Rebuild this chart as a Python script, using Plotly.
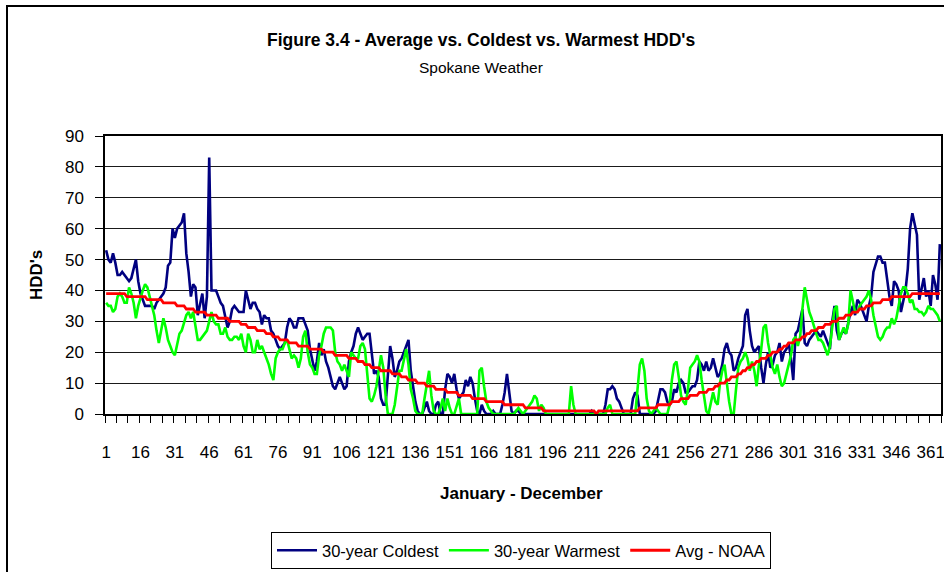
import plotly.graph_objects as go

days = list(range(1, 366))

coldest = [
    53, 50, 49, 52, 49, 45, 45, 46, 45, 44,
    43, 44, 47, 50, 43, 39, 37, 35, 35, 35,
    35, 34, 36, 37, 38, 39, 41, 48, 49, 60,
    57, 60, 61, 62, 65, 52, 46, 38, 42, 41,
    32, 36, 39, 31, 38, 83, 40, 40, 40, 38,
    36, 35, 32, 28, 30, 34, 35, 34, 33, 33,
    33, 40, 37, 34, 36, 36, 34, 33, 29, 32,
    31, 31, 27, 26, 24, 22, 21, 22, 23, 28,
    31, 30, 28, 28, 31, 31, 31, 29, 27, 21,
    17, 14, 17, 23, 19, 21, 17, 15, 12, 9,
    8, 10, 12, 10, 8, 9, 17, 20, 22, 26,
    28, 26, 24, 25, 26, 26, 20, 13, 14, 12,
    5, 3, 3, 12, 22, 18, 12, 14, 17, 18,
    20, 22, 24, 14, 9, 4, 1, 0, 0, 2,
    4, 1, 0, 0, 3, 4, 0, 0, 8, 13,
    12, 10, 13, 8, 5, 6, 7, 11, 9, 12,
    10, 5, 1, 0, 3, 1, 0, 0, 0, 1,
    0, 0, 0, 3, 7, 13, 7, 1, 0, 1,
    1, 0, 0, 0, 0, 0, 0, 0, 0, 0,
    0, 0, 0, 0, 0, 0, 0, 0, 0, 0,
    0, 0, 0, 0, 0, 0, 0, 0, 0, 0,
    0, 0, 1, 0, 0, 0, 0, 0, 3, 8,
    8, 9, 8, 5, 4, 2, 0, 0, 0, 0,
    5, 7, 6, 0, 0, 0, 0, 0, 0, 0,
    1, 4, 8, 8, 7, 4, 3, 4, 8, 7,
    10, 11, 10, 7, 7, 8, 9, 9, 11, 17,
    16, 14, 17, 14, 15, 18, 15, 12, 13, 16,
    21, 23, 20, 19, 14, 15, 18, 20, 22, 32,
    34, 27, 22, 20, 21, 22, 15, 10, 16, 20,
    15, 16, 19, 20, 23, 17, 20, 21, 23, 18,
    11, 26, 27, 30, 34, 23, 22, 24, 25, 26,
    27, 26, 25, 27, 25, 23, 21, 30, 35, 27,
    24, 26, 27, 26, 30, 33, 35, 32, 37, 36,
    34, 32, 30, 35, 38, 46, 49, 51, 51, 49,
    49, 44, 38, 35, 43, 42, 40, 33, 36, 40,
    47, 60, 65, 62, 58, 37, 40, 44, 38, 40,
    35, 45, 42, 37, 55,
]

warmest = [
    36, 35, 35, 33, 34, 38, 39, 38, 36, 36,
    41, 39, 36, 31, 35, 38, 40, 42, 41, 38,
    35, 32, 27, 23, 27, 31, 28, 24, 22, 20,
    19, 23, 26, 27, 30, 32, 33, 31, 33, 28,
    24, 24, 25, 26, 27, 30, 33, 30, 29, 29,
    26, 26, 28, 25, 24, 24, 25, 25, 24, 26,
    22, 20, 26, 24, 20, 20, 24, 21, 22, 20,
    18, 16, 13, 11, 18, 20, 21, 21, 23, 24,
    21, 18, 19, 18, 15, 18, 25, 27, 20, 16,
    15, 13, 13, 19, 22, 26, 28, 28, 28, 27,
    20, 17, 16, 14, 16, 14, 12, 20, 19, 18,
    18, 22, 23, 21, 13, 5, 4, 6, 9, 14,
    19, 15, 6, 0, 0, 0, 3, 8, 14, 14,
    17, 21, 16, 8, 5, 1, 0, 0, 0, 5,
    10, 14, 6, 1, 0, 0, 2, 5, 1, 5,
    2, 0, 0, 3, 5, 0, 0, 0, 0, 0,
    0, 0, 0, 14, 15, 9, 4, 2, 1, 0,
    0, 0, 0, 0, 0, 0, 0, 0, 0, 1,
    2, 1, 0, 1, 2, 3, 4, 6, 5, 1,
    3, 2, 0, 0, 0, 0, 0, 0, 0, 0,
    0, 0, 0, 9, 3, 0, 0, 0, 0, 0,
    0, 0, 0, 0, 0, 0, 0, 0, 0, 2,
    3, 0, 0, 0, 0, 0, 0, 0, 0, 0,
    0, 0, 8, 16, 18, 14, 5, 1, 0, 1,
    2, 1, 0, 0, 0, 0, 3, 11, 16, 17,
    12, 6, 4, 3, 8, 15, 16, 17, 19, 17,
    11, 6, 1, 0, 3, 7, 4, 3, 10, 14,
    16, 10, 4, 0, 0, 8, 15, 17, 18, 20,
    18, 14, 17, 14, 9, 16, 21, 28, 29, 23,
    19, 15, 13, 16, 12, 9, 10, 13, 16, 19,
    24, 25, 22, 25, 34, 41, 37, 33, 31, 28,
    26, 24, 24, 23, 21, 19, 22, 29, 34, 35,
    24, 26, 28, 26, 29, 40, 37, 33, 33, 35,
    36, 37, 38, 40, 37, 32, 28, 25, 24, 25,
    27, 28, 28, 31, 29, 31, 35, 39, 41, 41,
    39, 36, 37, 34, 34, 33, 33, 32, 33, 35,
    34, 34, 33, 32, 30,
]

avg_noaa = [
    39, 39, 39, 39, 39, 39, 39, 39, 39, 38,
    38, 38, 38, 38, 38, 38, 38, 38, 37, 37,
    37, 37, 37, 37, 37, 36, 36, 36, 36, 36,
    36, 35, 35, 35, 35, 34, 34, 34, 34, 33,
    33, 33, 33, 33, 32, 32, 32, 32, 32, 31,
    31, 31, 31, 31, 30, 30, 30, 30, 30, 29,
    29, 29, 28, 28, 28, 28, 27, 27, 27, 27,
    26, 26, 26, 25, 25, 25, 24, 24, 24, 24,
    23, 23, 23, 23, 22, 22, 22, 22, 22, 21,
    21, 21, 21, 21, 21, 20, 20, 20, 20, 20,
    19, 19, 19, 19, 19, 19, 18, 18, 18, 18,
    17, 17, 17, 16, 16, 16, 15, 15, 15, 15,
    14, 14, 14, 14, 14, 13, 13, 13, 13, 12,
    12, 12, 11, 11, 11, 11, 10, 10, 10, 10,
    9, 9, 9, 9, 8, 8, 8, 8, 8, 7,
    7, 7, 7, 7, 6, 6, 6, 6, 6, 6,
    5, 5, 5, 5, 5, 5, 4, 4, 4, 4,
    4, 4, 4, 4, 3, 3, 3, 3, 3, 3,
    3, 3, 3, 2, 2, 2, 2, 2, 2, 2,
    2, 1, 1, 1, 1, 1, 1, 1, 1, 1,
    1, 1, 1, 1, 1, 1, 1, 1, 1, 1,
    1, 1, 1, 1, 0, 1, 1, 1, 1, 1,
    1, 1, 1, 1, 1, 1, 1, 1, 1, 1,
    1, 1, 1, 2, 2, 2, 2, 2, 2, 2,
    2, 3, 3, 3, 3, 3, 3, 4, 4, 4,
    4, 5, 5, 5, 5, 6, 6, 6, 6, 7,
    7, 7, 7, 8, 8, 8, 9, 9, 10, 10,
    10, 11, 11, 12, 12, 12, 13, 13, 14, 14,
    15, 15, 16, 16, 17, 17, 18, 18, 18, 19,
    19, 20, 20, 20, 21, 21, 22, 22, 23, 23,
    23, 24, 24, 24, 25, 25, 26, 26, 27, 27,
    27, 28, 28, 28, 29, 29, 29, 30, 30, 30,
    31, 31, 31, 32, 32, 32, 33, 33, 33, 34,
    34, 34, 35, 35, 35, 36, 36, 36, 36, 37,
    37, 37, 37, 38, 38, 38, 38, 38, 38, 38,
    38, 38, 39, 39, 39, 39, 39, 39, 39, 39,
    39, 39, 39, 39, 39,
]

x_tick_values = [1, 16, 31, 46, 61, 76, 91, 106, 121, 136, 151, 166, 181,
                 196, 211, 226, 241, 256, 271, 286, 301, 316, 331, 346, 361]
x_tick_labels = [str(v) for v in x_tick_values]
y_tick_values = [0, 10, 20, 30, 40, 50, 60, 70, 80, 90]

FONT = "Liberation Sans, Arial, sans-serif"

fig = go.Figure()
fig.add_trace(go.Scatter(x=days, y=coldest, mode="lines", name="30-year Coldest",
                         line=dict(color="#000080", width=2.6)))
fig.add_trace(go.Scatter(x=days, y=warmest, mode="lines", name="30-year Warmest",
                         line=dict(color="#00FF00", width=2.6)))
fig.add_trace(go.Scatter(x=days, y=avg_noaa, mode="lines", name="Avg - NOAA",
                         line=dict(color="#FF0000", width=2.8)))

W, H = 944, 572
L, R, T, B = 105, 941, 136, 414
pw, ph = R - L, B - T


def px(xp):
    return (xp - L) / pw


def py(yp):
    return (B - yp) / ph


fig.update_layout(
    width=W, height=H,
    margin=dict(l=L, r=W - R, t=T, b=H - B, pad=0, autoexpand=False),
    paper_bgcolor="white", plot_bgcolor="white",
    font=dict(family=FONT, size=17, color="black"),
    showlegend=True,
    legend=dict(orientation="h", x=px(521), xanchor="center", y=py(532), yanchor="top",
                bordercolor="black", borderwidth=1, bgcolor="white",
                font=dict(family=FONT, size=16.5, color="black"),
                itemwidth=40, tracegroupgap=0),
    xaxis=dict(range=[0.5, 365.5], tickmode="array", tickvals=x_tick_values,
               ticktext=x_tick_labels, ticks="", showgrid=False, zeroline=False,
               showline=True, linecolor="black", linewidth=1.5, mirror=True,
               ticklabelstandoff=22, tickangle=0, ticklabeloverflow="allow",
               tickfont=dict(family=FONT, size=17, color="black"),
               minor=dict(ticks="outside", tick0=0.5, dtick=5, ticklen=7,
                          tickcolor="black", tickwidth=1, showgrid=False)),
    yaxis=dict(range=[0, 90], tickmode="array", tickvals=y_tick_values,
               ticks="outside", ticklen=8, tickcolor="black", tickwidth=1,
               showgrid=True, gridcolor="#1a1a1a", gridwidth=1, zeroline=False,
               showline=True, linecolor="black", linewidth=1.5, mirror=True,
               ticklabelstandoff=8,
               tickfont=dict(family=FONT, size=17, color="black")),
    annotations=[
        dict(text="<b>Figure 3.4 - Average vs. Coldest vs. Warmest HDD's</b>",
             x=px(481), y=py(40), xref="paper", yref="paper", showarrow=False,
             xanchor="center", yanchor="middle", font=dict(family=FONT, size=17.5)),
        dict(text="Spokane Weather", x=px(481), y=py(68), xref="paper", yref="paper",
             showarrow=False, xanchor="center", yanchor="middle",
             font=dict(family=FONT, size=15.5)),
        dict(text="<b>HDD's</b>", x=px(36), y=py(275), xref="paper", yref="paper",
             showarrow=False, xanchor="center", yanchor="middle", textangle=-90,
             font=dict(family=FONT, size=17)),
        dict(text="<b>January - December</b>", x=px(521), y=py(493), xref="paper",
             yref="paper", showarrow=False, xanchor="center", yanchor="middle",
             font=dict(family=FONT, size=17)),
    ],
    shapes=[
        dict(type="rect", xref="paper", yref="paper", x0=px(7), x1=px(990),
             y0=py(620), y1=py(6), line=dict(color="black", width=2), layer="above"),
    ],
)

fig.write_html("out.html", config={"displayModeBar": False},
               post_script="document.body.style.margin='0';document.body.style.overflow='hidden';")
